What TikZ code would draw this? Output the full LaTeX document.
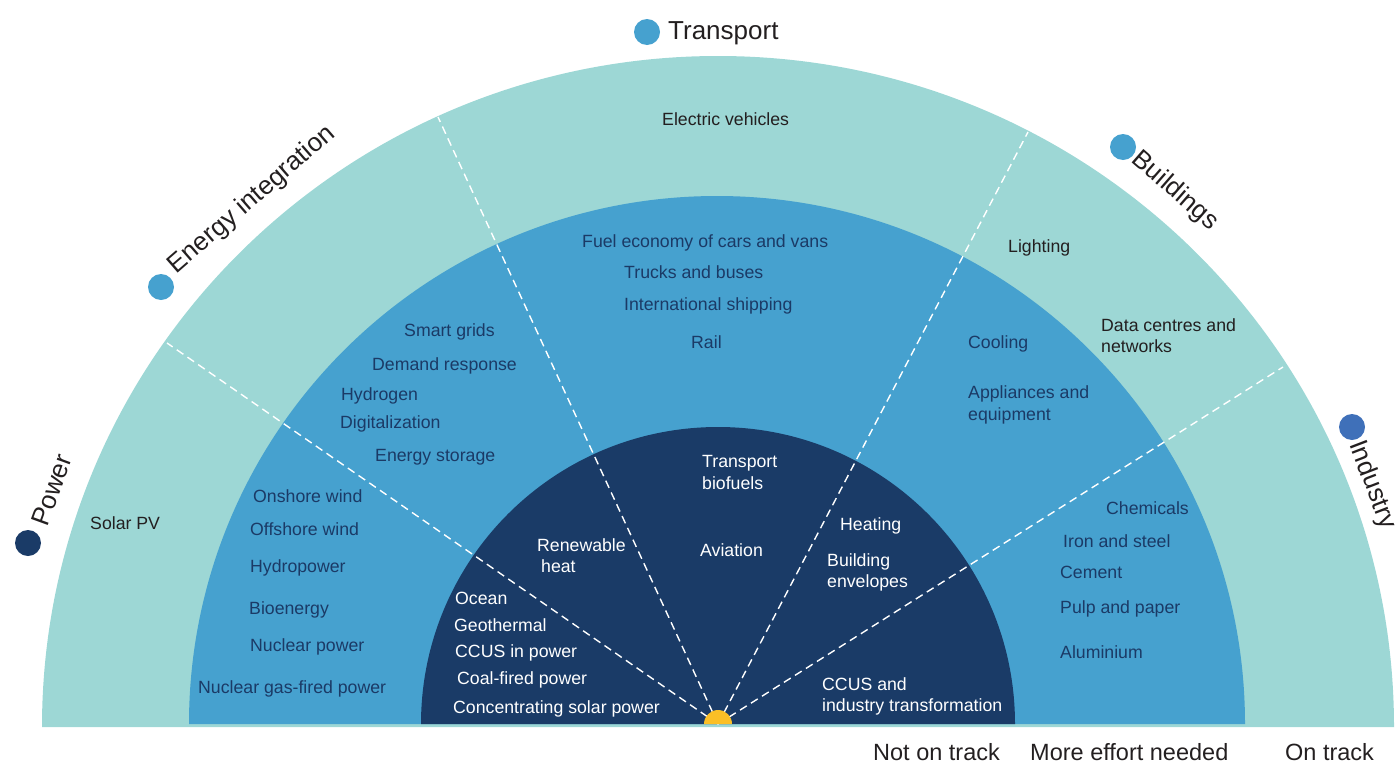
\documentclass[tikz,border=0pt]{standalone}
\usepackage{fontspec}
\setmainfont{Liberation Sans}
\definecolor{outerc}{HTML}{9DD7D5}
\definecolor{midc}{HTML}{46A1CF}
\definecolor{innerc}{HTML}{1A3B67}
\definecolor{navytext}{HTML}{1B3A66}
\definecolor{graytext}{HTML}{231F20}
\definecolor{sun}{HTML}{FBBF26}
\definecolor{indc}{HTML}{3F70B9}
\begin{document}
\begin{tikzpicture}[x=1pt,y=-1pt,
  lab/.style={inner sep=0pt, font=\fontsize{17.7}{21.5}\selectfont, align=left},
  outl/.style={lab, text=graytext, anchor=base west},
  midl/.style={lab, text=navytext, anchor=base west},
  innl/.style={lab, text=white, anchor=base west},
  multi/.style={anchor=north west},
  cat/.style={inner sep=0pt, font=\fontsize{26}{30}\selectfont, text=graytext},
  legdot/.style={circle, inner sep=0pt, minimum size=26pt},
  status/.style={inner sep=0pt, font=\fontsize{23.5}{28}\selectfont, text=graytext, anchor=base west},
  divider/.style={draw=white, line width=1.4pt, dash pattern=on 8pt off 5pt}
]
\useasboundingbox (0,0) rectangle (1395,763);

% bands
\fill[outerc] (42,727) arc[start angle=180, end angle=360, x radius=676, y radius=671] -- cycle;
\fill[midc] (189,724) arc[start angle=180, end angle=360, radius=528] -- cycle;
\fill[innerc] (421,724) arc[start angle=180, end angle=360, radius=297] -- cycle;

% dividers
\coordinate (c) at (718,724);
\coordinate (e1) at (167,343);
\coordinate (e2) at (438,117);
\coordinate (e3) at (1028,132);
\coordinate (e4) at (1283,367);
\draw[divider] (c) -- (e1);
\draw[divider] (c) -- (e2);
\draw[divider] (c) -- (e3);
\draw[divider] (c) -- (e4);

% centre dot
\fill[sun] (704,724) arc[start angle=180, end angle=360, radius=14] -- cycle;

% sector labels
\node[legdot, fill=innerc] (dpower) at (28,543) {};
\node[cat, rotate=70] (tpower) at (52,490) {Power};
\node[legdot, fill=midc] (denergy) at (161,287) {};
\node[cat, rotate=41] (tenergy) at (252,200) {Energy integration};
\node[legdot, fill=midc] (dtrans) at (647,32) {};
\node[cat, anchor=base west] (ttrans) at (668,39.5) {Transport};
\node[legdot, fill=midc] (dbuild) at (1123,147) {};
\node[cat, rotate=-41] (tbuild) at (1175,191) {Buildings};
\node[legdot, fill=indc] (dind) at (1352,427) {};
\node[cat, rotate=-69] (tind) at (1372,485) {Industry};

% outer band (on track)
\node[outl] (solarpv) at (90,529) {Solar PV};
\node[outl] (ev) at (662,125) {Electric vehicles};
\node[outl] (lighting) at (1008,252) {Lighting};
\node[outl, multi] (datac) at (1101,318) {Data centres and\\networks};

% middle band (more effort needed)
\node[midl] (smart) at (404,336.5) {Smart grids};
\node[midl] (demand) at (372,370) {Demand response};
\node[midl] (hydrogen) at (341,400.5) {Hydrogen};
\node[midl] (digital) at (340,428.5) {Digitalization};
\node[midl] (storage) at (375,461) {Energy storage};
\node[midl] (onshore) at (253,502) {Onshore wind};
\node[midl] (offshore) at (250,535) {Offshore wind};
\node[midl] (hydro) at (250,572) {Hydropower};
\node[midl] (bio) at (249,614) {Bioenergy};
\node[midl] (nuclear) at (250,651) {Nuclear power};
\node[midl] (nucgas) at (198,693) {Nuclear gas-fired power};
\node[midl] (fuel) at (582,247) {Fuel economy of cars and vans};
\node[midl] (trucks) at (624,278.5) {Trucks and buses};
\node[midl] (shipping) at (624,310) {International shipping};
\node[midl] (rail) at (691,348.5) {Rail};
\node[midl] (cooling) at (968,348) {Cooling};
\node[midl, multi] (appl) at (968,385.5) {Appliances and\\equipment};
\node[midl] (chem) at (1106,514) {Chemicals};
\node[midl] (iron) at (1063,547) {Iron and steel};
\node[midl] (cement) at (1060,578) {Cement};
\node[midl] (pulp) at (1060,613) {Pulp and paper};
\node[midl] (alu) at (1060,658) {Aluminium};

% inner band (not on track)
\node[innl, multi] (renew) at (537,538) {Renewable\\\hspace*{4pt}heat};
\node[innl, multi] (tbio) at (702,455.5) {Transport\\biofuels};
\node[innl] (aviation) at (700,556) {Aviation};
\node[innl] (heating) at (840,530) {Heating};
\node[innl, multi] (envel) at (827,553) {Building\\envelopes};
\node[innl] (ocean) at (455,604) {Ocean};
\node[innl] (geo) at (454,631) {Geothermal};
\node[innl] (ccusp) at (455,657) {CCUS in power};
\node[innl] (coal) at (457,684) {Coal-fired power};
\node[innl] (csp) at (453,713) {Concentrating solar power};
\node[innl, multi] (ccusi) at (822,677) {CCUS and\\industry transformation};

% status legend
\node[status] (nottrack) at (873,760) {Not on track};
\node[status] (moreeff) at (1030,760) {More effort needed};
\node[status] (ontrack) at (1285,760) {On track};
\end{tikzpicture}
\end{document}
